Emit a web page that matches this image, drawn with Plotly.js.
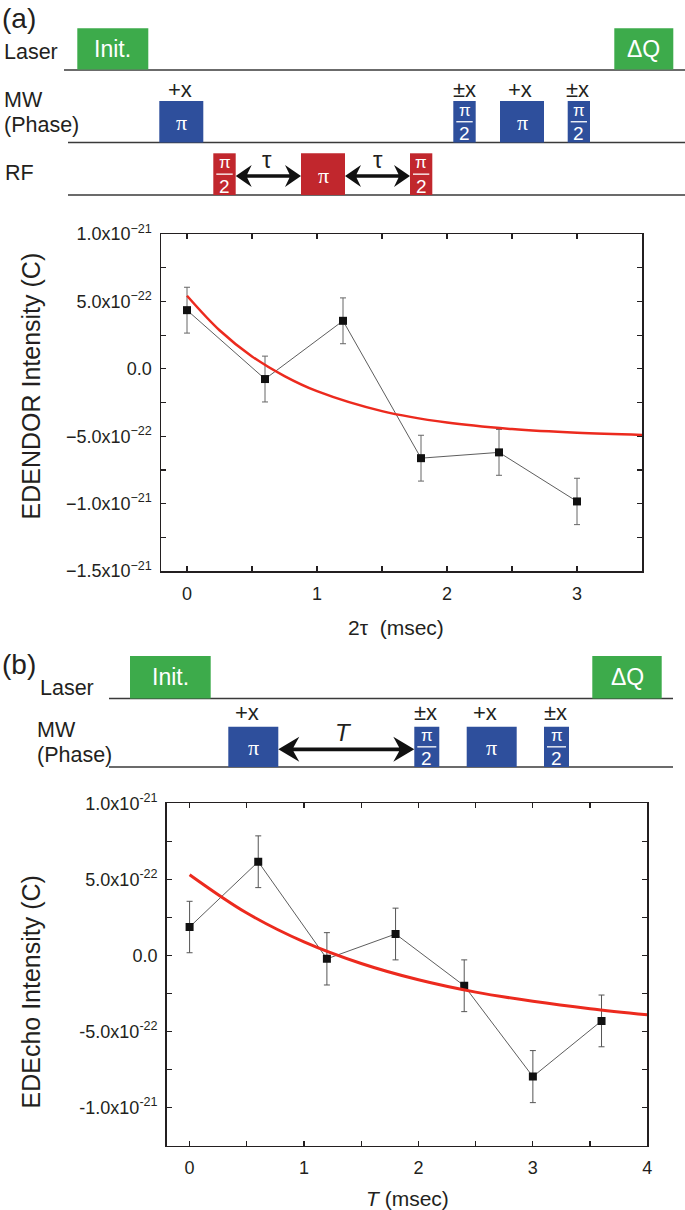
<!DOCTYPE html>
<html>
<head>
<meta charset="utf-8">
<script src="https://cdn.plot.ly/plotly-3.0.1.min.js"></script>
<style>html,body{margin:0;padding:0;background:#fff;}#chart{width:685px;height:1210px;}</style>
</head>
<body>
<div id="chart"></div>
<script>
// ---------- DATA ----------
// (a) EDENDOR
const aX = [0, 0.6, 1.2, 1.8, 2.4, 3.0];
const aY = [4.35e-22, -0.76e-22, 3.56e-22, -6.63e-22, -6.20e-22, -9.84e-22];
const aErr = [1.70e-22, 1.70e-22, 1.70e-22, 1.70e-22, 1.70e-22, 1.72e-22];
const aFitX = [0, 0.25, 0.5, 0.75, 1.0, 1.5, 2.0, 2.5, 3.0, 3.5];
const aFitY = [5.42e-22, 2.86e-22, 0.92e-22, -0.54e-22, -1.66e-22, -3.14e-22, -3.99e-22, -4.47e-22, -4.75e-22, -4.91e-22];
// (b) EDEcho
const bX = [0, 0.6, 1.2, 1.8, 2.4, 3.0, 3.6];
const bY = [1.87e-22, 6.16e-22, -0.22e-22, 1.41e-22, -1.99e-22, -7.96e-22, -4.30e-22];
const bErr = [1.69e-22, 1.70e-22, 1.72e-22, 1.70e-22, 1.70e-22, 1.71e-22, 1.70e-22];
const bFitX = [0, 0.5, 1.0, 1.5, 2.0, 2.5, 3.0, 3.5, 4.0];
const bFitY = [5.31e-22, 2.79e-22, 0.89e-22, -0.53e-22, -1.60e-22, -2.41e-22, -3.01e-22, -3.50e-22, -3.90e-22];

// tick values / labels (major) and minor tick positions
const aXTicks = [0, 1, 2, 3];
const aXLabels = ['0', '1', '2', '3'];
const aXMinor = [0.5, 1.5, 2.5, 3.5];
const aYTicks = [-1.5e-21, -1e-21, -5e-22, 0, 5e-22, 1e-21];
const aYLabels = ['\u22121.5x10<sup>\u221221</sup>', '\u22121.0x10<sup>\u221221</sup>', '\u22125.0x10<sup>\u221222</sup>', '0.0', '5.0x10<sup>\u221222</sup>', '1.0x10<sup>\u221221</sup>'];
const aYMinor = [-1.25e-21, -7.5e-22, -2.5e-22, 2.5e-22, 7.5e-22];
const bXTicks = [0, 1, 2, 3, 4];
const bXLabels = ['0', '1', '2', '3', '4'];
const bXMinor = [0.5, 1.5, 2.5, 3.5];
const bYTicks = [-1e-21, -5e-22, 0, 5e-22, 1e-21];
const bYLabels = ['-1.0x10<sup>-21</sup>', '-5.0x10<sup>-22</sup>', '0.0', '5.0x10<sup>-22</sup>', '1.0x10<sup>-21</sup>'];
const bYMinor = [-7.5e-22, -2.5e-22, 2.5e-22, 7.5e-22];

// ---------- helpers ----------
const W = 685, H = 1210;
const FONT = 'Liberation Sans, Arial, Helvetica, sans-serif';
const SERIF = 'Liberation Serif, Times New Roman, serif';
const INK = '#231f20';
const GREEN = '#3dab4b', BLUE = '#2e4f9c', RED = '#c1272d';
const px = x => x / W;
const py = y => 1 - y / H;

const shapes = [];
const annotations = [];

function rect(x0, y0, x1, y1, color) {
  shapes.push({type: 'rect', xref: 'paper', yref: 'paper', x0: px(x0), x1: px(x1), y0: py(y1), y1: py(y0),
    fillcolor: color, line: {width: 0}, layer: 'above'});
}
function hline(x0, x1, y, color, w) {
  shapes.push({type: 'line', xref: 'paper', yref: 'paper', x0: px(x0), x1: px(x1), y0: py(y), y1: py(y),
    line: {color: color || '#3a3a3a', width: w || 1.5}, layer: 'above'});
}
function txt(x, y, text, size, color, opts) {
  annotations.push(Object.assign({xref: 'paper', yref: 'paper', x: px(x), y: py(y), text: text, showarrow: false,
    xanchor: 'center', yanchor: 'middle', font: {family: FONT, size: size, color: color || INK}}, opts || {}));
}
function darrow(x0, x1, yc, hl, hh, sw) {
  const P = (x, y) => px(x) + ',' + py(y);
  const n = 0.72;
  const d = 'M' + P(x0, yc) + ' L' + P(x0 + hl, yc - hh) + ' L' + P(x0 + hl * n, yc - sw) +
    ' L' + P(x1 - hl * n, yc - sw) + ' L' + P(x1 - hl, yc - hh) + ' L' + P(x1, yc) +
    ' L' + P(x1 - hl, yc + hh) + ' L' + P(x1 - hl * n, yc + sw) + ' L' + P(x0 + hl * n, yc + sw) +
    ' L' + P(x0 + hl, yc + hh) + ' Z';
  shapes.push({type: 'path', xref: 'paper', yref: 'paper', path: d, fillcolor: '#111', line: {width: 0}, layer: 'above'});
}
function piBox(x0, y0, x1, y1, color) {
  rect(x0, y0, x1, y1, color);
  txt((x0 + x1) / 2, (y0 + y1) / 2 + 1, '\u03c0', 21, '#fff', {font: {family: SERIF, size: 22, color: '#fff'}});
}
function halfPiBox(x0, y0, x1, y1, color) {
  rect(x0, y0, x1, y1, color);
  const cx = (x0 + x1) / 2, h = y1 - y0;
  txt(cx, y0 + h * 0.23, '\u03c0', 17, '#fff');
  hline(x0 + 3, x1 - 3, y0 + h * 0.5, '#ffffff', 1.3);
  txt(cx, y0 + h * 0.79, '2', 19, '#fff');
}

// ---------- pulse sequence (a) ----------
txt(0, 19, '(a)', 28, INK, {xanchor: 'left'});
txt(2, 52, 'Laser', 21.5, INK, {xanchor: 'left'});
txt(2, 100, 'MW', 21.5, INK, {xanchor: 'left'});
txt(2, 125, '(Phase)', 21.5, INK, {xanchor: 'left'});
txt(3, 173, 'RF', 21.5, INK, {xanchor: 'left'});
hline(64, 685, 70);
hline(68, 685, 142.5);
hline(68, 685, 195);
rect(77.3, 28.3, 148.3, 69.5, GREEN);
txt(112.8, 49, 'Init.', 23, '#fff');
rect(614.3, 28.3, 673.3, 69.5, GREEN);
txt(643.8, 49, '\u0394Q', 23, '#fff');
piBox(159.3, 101, 203.3, 142.5, BLUE);
halfPiBox(453.3, 101, 475.7, 142.5, BLUE);
piBox(500, 101, 544, 142.5, BLUE);
halfPiBox(567.7, 101, 590, 142.5, BLUE);
txt(180, 89, '+x', 22);
txt(464, 89, '\u00b1x', 22);
txt(520, 89, '+x', 22);
txt(577.5, 89, '\u00b1x', 22);
halfPiBox(213.3, 153.3, 235.7, 195, RED);
piBox(301, 153.3, 345, 195, RED);
halfPiBox(410, 153.3, 432.3, 195, RED);
darrow(235.7, 301, 176, 16, 11, 1.8);
darrow(345, 410, 176, 16, 11, 1.8);
txt(267, 159, '\u03c4', 24);
txt(378, 159, '\u03c4', 24);

// ---------- pulse sequence (b) ----------
txt(0, 665, '(b)', 28, INK, {xanchor: 'left'});
txt(38, 688, 'Laser', 21.5, INK, {xanchor: 'left'});
txt(35, 730, 'MW', 21.5, INK, {xanchor: 'left'});
txt(35, 755, '(Phase)', 21.5, INK, {xanchor: 'left'});
hline(109, 673, 698.5);
hline(109, 673, 767);
rect(130, 656, 210.7, 698.5, GREEN);
txt(170.3, 677, 'Init.', 23, '#fff');
rect(592.3, 656, 661.7, 698.5, GREEN);
txt(627, 677, '\u0394Q', 23, '#fff');
piBox(228.3, 726.7, 278.3, 767, BLUE);
halfPiBox(414.3, 726.7, 439.3, 767, BLUE);
piBox(466.7, 726.7, 516.7, 767, BLUE);
halfPiBox(544, 726.7, 569, 767, BLUE);
txt(247, 712, '+x', 22);
txt(426, 712, '\u00b1x', 22);
txt(485, 712, '+x', 22);
txt(555, 712, '\u00b1x', 22);
darrow(278.3, 414.3, 749.3, 21, 12.5, 1.9);
txt(343, 732, '<i>T</i>', 24);

// ---------- axis titles ----------
txt(30, 386.5, 'EDENDOR Intensity (C)', 25, INK, {textangle: -90});
txt(396, 627, '2\u03c4  (msec)', 21);
txt(30, 992.5, 'EDEcho Intensity (C)', 25, INK, {textangle: -90});
txt(407, 1198, '<i>T</i> (msec)', 21);

// ---------- traces ----------
const dataStyle = {
  mode: 'lines+markers', type: 'scatter',
  line: {color: '#333', width: 0.8},
  marker: {symbol: 'square', size: 8, color: '#111'},
  showlegend: false
};
const traces = [
  Object.assign({}, dataStyle, {x: aX, y: aY, xaxis: 'x', yaxis: 'y',
    error_y: {type: 'data', array: aErr, visible: true, color: '#666', thickness: 1, width: 3}}),
  {x: aFitX, y: aFitY, xaxis: 'x', yaxis: 'y', type: 'scatter', mode: 'lines',
    line: {color: '#ec2a1e', width: 2.5, shape: 'spline'}, showlegend: false},
  Object.assign({}, dataStyle, {x: bX, y: bY, xaxis: 'x2', yaxis: 'y2',
    error_y: {type: 'data', array: bErr, visible: true, color: '#555', thickness: 1, width: 3}}),
  {x: bFitX, y: bFitY, xaxis: 'x2', yaxis: 'y2', type: 'scatter', mode: 'lines',
    line: {color: '#ec2a1e', width: 3, shape: 'spline'}, showlegend: false}
];

function axisBase(minorVals) {
  return {
    showgrid: false, zeroline: false, showline: true, linecolor: INK, linewidth: 1.5,
    mirror: 'ticks', ticks: 'inside', ticklen: 5, tickwidth: 1.2, tickcolor: INK,
    tickmode: 'array', tickfont: {family: FONT, size: 18, color: INK}, fixedrange: true,
    minor: {tickmode: 'array', tickvals: minorVals, ticks: 'inside', ticklen: 5, tickwidth: 1.2, tickcolor: INK, showgrid: false}
  };
}

const layout = {
  width: W, height: H, autosize: false,
  margin: {l: 0, r: 0, t: 0, b: 0},
  paper_bgcolor: '#fff', plot_bgcolor: '#fff',
  showlegend: false,
  xaxis: Object.assign(axisBase(aXMinor), {domain: [px(161), px(642)], range: [-0.2, 3.5], anchor: 'y',
    tickvals: aXTicks, ticktext: aXLabels, ticklabelstandoff: 6}),
  yaxis: Object.assign(axisBase(aYMinor), {domain: [py(571), py(234)], range: [-1.5e-21, 1.0e-21], anchor: 'x',
    tickvals: aYTicks, ticktext: aYLabels, ticklabelstandoff: 4}),
  xaxis2: Object.assign(axisBase(bXMinor), {domain: [px(166.7), px(647.3)], range: [-0.2, 4], anchor: 'y2',
    tickvals: bXTicks, ticktext: bXLabels, ticklabelstandoff: 5}),
  yaxis2: Object.assign(axisBase(bYMinor), {domain: [py(1145.7), py(803.3)], range: [-1.25e-21, 1.0e-21], anchor: 'x2',
    tickvals: bYTicks, ticktext: bYLabels, ticklabelstandoff: 4}),
  shapes: shapes,
  annotations: annotations
};

Plotly.newPlot('chart', traces, layout, {displayModeBar: false, staticPlot: true});
</script>
</body>
</html>
